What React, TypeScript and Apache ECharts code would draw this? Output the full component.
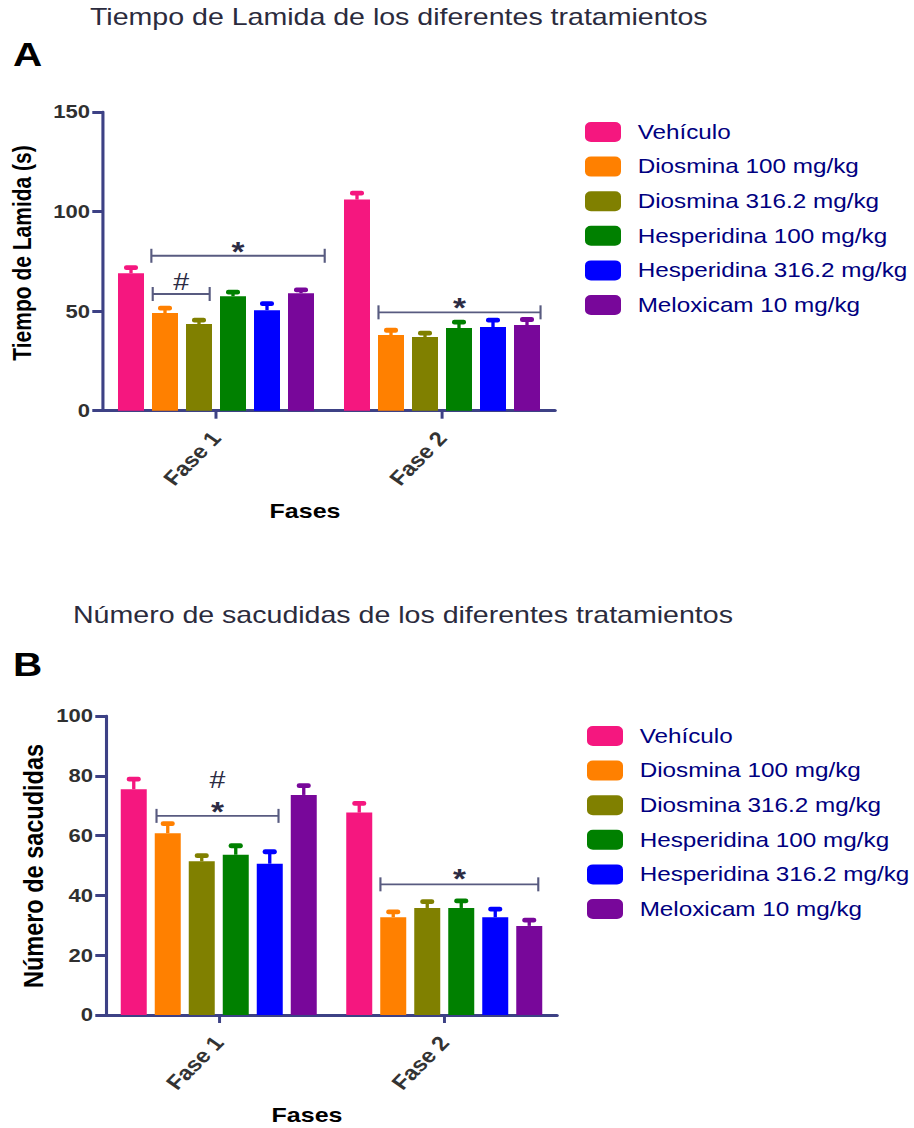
import React, { useEffect, useRef } from "react";
import * as echarts from "echarts";

// ---------------- data ----------------
const PHASES = ["Fase 1", "Fase 2"];
const TREATMENTS = [
  "Vehículo",
  "Diosmina 100 mg/kg",
  "Diosmina 316.2 mg/kg",
  "Hesperidina 100 mg/kg",
  "Hesperidina 316.2 mg/kg",
  "Meloxicam 10 mg/kg",
];

// Panel A: Tiempo de Lamida (s) — [Fase 1, Fase 2] per treatment
const LICK_MEAN = [
  [69, 106],
  [49, 38],
  [43.5, 37],
  [57.5, 41.5],
  [50.5, 42],
  [59, 43],
];
const LICK_SEM = [
  [2.8, 3.3],
  [2.5, 2.4],
  [2, 2],
  [2, 3],
  [3.3, 3.5],
  [1.7, 2.8],
];
const LICK_TICKS = [0, 50, 100, 150];
// brackets: [phase, from (band fraction), to (band fraction), y]
const LICK_BRACKETS = [
  [0, -0.286, 0.481, 77.8],
  [0, -0.28, -0.028, 58.6],
  [1, -0.281, 0.436, 49.4],
];
// marks: [phase, x (band fraction), y]
const LICK_MARKS = [
  [0, 0.0975, 80.1],
  [0, -0.154, 64.6],
  [1, 0.0775, 52.0],
];
const LICK_MARK_LABELS = ["*", "#", "*"];

// Panel B: Número de sacudidas — [Fase 1, Fase 2] per treatment
const SHAKE_MEAN = [
  [75.5, 67.7],
  [60.8, 32.7],
  [51.4, 35.8],
  [53.6, 35.8],
  [50.6, 32.7],
  [73.6, 29.8],
];
const SHAKE_SEM = [
  [3.4, 3.1],
  [3.2, 1.8],
  [1.9, 2.1],
  [3, 2.4],
  [4, 2.7],
  [3.1, 1.9],
];
const SHAKE_TICKS = [0, 20, 40, 60, 80, 100];
const SHAKE_BRACKETS = [
  [0, -0.276, 0.265, 66.6],
  [1, -0.283, 0.417, 43.7],
];
const SHAKE_MARKS = [
  [0, -0.0055, 68.2],
  [0, -0.0055, 78.6],
  [1, 0.067, 45.6],
];
const SHAKE_MARK_LABELS = ["*", "#", "*"];

const TITLE_A = "Tiempo de Lamida de los diferentes tratamientos";
const TITLE_B = "Número de sacudidas de los diferentes tratamientos";
const YNAME_A = "Tiempo de Lamida (s)";
const YNAME_B = "Número de sacudidas";
const XNAME = "Fases";

// ---------------- styles ----------------
const COLORS = ["#F5177F", "#FF8000", "#808000", "#008000", "#0000FF", "#78079A"];
const S = 1.19; // horizontal stretch of the picture
const BASE_W = 914 / S;
const FONT = "'Liberation Sans', Arial, Helvetica, sans-serif";
const AXIS_COLOR = "#3d4185";
const BRACKET_COLOR = "#585b80";
const MARK_COLOR = "#2c2c44";
const BAR_W = 26 / S;
const BAR_STEP = 34 / S;
const BAR_GAP_PCT = (((BAR_STEP - BAR_W) / BAR_W) * 100).toFixed(2) + "%";
const CAP_W = 14 / S;
const CAP_H = 4.8;
const STEM_W = 2.8;

function axisPair(idx: number, ticks: number[]) {
  const interval = ticks[1] - ticks[0];
  const x = {
    type: "category",
    gridIndex: idx,
    data: PHASES,
    axisLine: { show: true, lineStyle: { color: AXIS_COLOR, width: 3 } },
    axisTick: { show: true, alignWithLabel: true, length: 8, lineStyle: { color: AXIS_COLOR, width: 2.5 } },
    axisLabel: {
      rotate: 50,
      interval: 0,
      margin: 24,
      fontSize: 20,
      fontWeight: "bold",
      color: "#333333",
      fontFamily: FONT,
    },
    splitLine: { show: false },
  };
  const y = {
    type: "value",
    gridIndex: idx,
    min: ticks[0],
    max: ticks[ticks.length - 1],
    interval,
    axisLine: { show: true, lineStyle: { color: AXIS_COLOR, width: 2.6 } },
    axisTick: { show: true, length: 9, lineStyle: { color: AXIS_COLOR, width: 3 } },
    axisLabel: { margin: 11, fontSize: 18.5, fontWeight: "bold", color: "#303030", fontFamily: FONT },
    splitLine: { show: false },
  };
  return { x, y };
}

function barSeries(idx: number, means: number[][]) {
  return TREATMENTS.map((name, t) => ({
    type: "bar",
    name,
    xAxisIndex: idx,
    yAxisIndex: idx,
    data: means[t],
    barWidth: BAR_W,
    barGap: BAR_GAP_PCT,
    itemStyle: { color: COLORS[t] },
    z: 2,
  }));
}

function errorSeries(idx: number, means: number[][], sems: number[][]) {
  const data: number[][] = [];
  means.forEach((row, t) => row.forEach((m, p) => data.push([p, t, m, sems[t][p]])));
  return {
    type: "custom",
    xAxisIndex: idx,
    yAxisIndex: idx,
    silent: true,
    z: 3,
    encode: { x: 0, y: 2 },
    data,
    renderItem: (params: any, api: any) => {
      const p = api.value(0);
      const t = api.value(1);
      const m = api.value(2);
      const e = api.value(3);
      const base = api.coord([p, m]);
      const top = api.coord([p, m + e]);
      const x = base[0] + (t - (TREATMENTS.length - 1) / 2) * BAR_STEP;
      const color = COLORS[t];
      return {
        type: "group",
        children: [
          { type: "line", shape: { x1: x, y1: base[1], x2: x, y2: top[1] }, style: { stroke: color, lineWidth: STEM_W } },
          {
            type: "rect",
            shape: { x: x - CAP_W / 2, y: top[1] - CAP_H / 2, width: CAP_W, height: CAP_H, r: 2 },
            style: { fill: color },
          },
        ],
      };
    },
  };
}

function bracketSeries(idx: number, brackets: number[][]) {
  return {
    type: "custom",
    xAxisIndex: idx,
    yAxisIndex: idx,
    silent: true,
    z: 4,
    encode: { x: 0, y: 3 },
    data: brackets,
    renderItem: (params: any, api: any) => {
      const c = api.coord([api.value(0), api.value(3)]);
      const band = api.size([1, 0])[0];
      const x1 = c[0] + api.value(1) * band;
      const x2 = c[0] + api.value(2) * band;
      const y = c[1];
      const st = { stroke: BRACKET_COLOR, lineWidth: 1.8 };
      return {
        type: "group",
        children: [
          { type: "line", shape: { x1, y1: y, x2, y2: y }, style: st },
          { type: "line", shape: { x1, y1: y - 7, x2: x1, y2: y + 7 }, style: st },
          { type: "line", shape: { x1: x2, y1: y - 7, x2, y2: y + 7 }, style: st },
        ],
      };
    },
  };
}

function markSeries(idx: number, marks: number[][], labels: string[]) {
  return {
    type: "custom",
    xAxisIndex: idx,
    yAxisIndex: idx,
    silent: true,
    z: 5,
    encode: { x: 0, y: 2 },
    data: marks,
    renderItem: (params: any, api: any) => {
      const c = api.coord([api.value(0), api.value(2)]);
      const band = api.size([1, 0])[0];
      const label = labels[params.dataIndex];
      const isStar = label === "*";
      return {
        type: "text",
        x: c[0] + api.value(1) * band,
        y: c[1],
        style: {
          text: label,
          fontSize: isStar ? 28 : 24,
          fontWeight: isStar ? "bold" : "normal",
          fontFamily: FONT,
          fill: MARK_COLOR,
          align: "center",
          verticalAlign: "middle",
        },
      };
    },
  };
}

function legend(left: number, top: number) {
  return {
    orient: "vertical",
    left,
    top,
    padding: 0,
    itemWidth: 36 / S,
    itemHeight: 20,
    itemGap: 14.6,
    icon: "roundRect",
    selectedMode: false,
    data: TREATMENTS,
    textStyle: { fontSize: 20.4, color: "#000080", fontFamily: FONT, padding: [0, 0, 0, 9] },
  };
}

export default function App() {
  const ref = useRef<HTMLDivElement>(null);

  useEffect(() => {
    document.body.style.margin = "0";
    document.body.style.overflow = "hidden";
    if (!ref.current) return;
    const chart = echarts.init(ref.current, undefined, { renderer: "svg" });
    const a = axisPair(0, LICK_TICKS);
    const b = axisPair(1, SHAKE_TICKS);
    const textBase = { fontFamily: FONT };
    chart.setOption({
      animation: false,
      backgroundColor: "#ffffff",
      textStyle: { fontFamily: FONT },
      title: [
        {
          text: TITLE_A,
          left: 90 / S,
          top: 5,
          padding: 0,
          textStyle: { fontSize: 24, fontWeight: "normal", color: "#2b2b3d", fontFamily: FONT },
        },
        {
          text: TITLE_B,
          left: 73 / S,
          top: 603,
          padding: 0,
          textStyle: { fontSize: 24, fontWeight: "normal", color: "#2b2b3d", fontFamily: FONT },
        },
      ],
      legend: [legend(585 / S, 122), legend(587 / S, 726)],
      grid: [
        { left: 103 / S, top: 112, width: (555 - 103) / S, height: 298.7, containLabel: false },
        { left: 106 / S, top: 716, width: (557 - 106) / S, height: 299, containLabel: false },
      ],
      xAxis: [a.x, b.x],
      yAxis: [a.y, b.y],
      series: [
        ...barSeries(0, LICK_MEAN),
        errorSeries(0, LICK_MEAN, LICK_SEM),
        bracketSeries(0, LICK_BRACKETS),
        markSeries(0, LICK_MARKS, LICK_MARK_LABELS),
        ...barSeries(1, SHAKE_MEAN),
        errorSeries(1, SHAKE_MEAN, SHAKE_SEM),
        bracketSeries(1, SHAKE_BRACKETS),
        markSeries(1, SHAKE_MARKS, SHAKE_MARK_LABELS),
      ],
      graphic: [
        {
          type: "text",
          x: 13 / S,
          y: 54,
          style: { ...textBase, text: "A", fontSize: 34, fontWeight: "bold", fill: "#000", verticalAlign: "middle", align: "left" },
        },
        {
          type: "text",
          x: 13 / S,
          y: 664,
          style: { ...textBase, text: "B", fontSize: 34, fontWeight: "bold", fill: "#000", verticalAlign: "middle", align: "left" },
        },
        {
          type: "text",
          x: 22 / S,
          y: 253,
          rotation: Math.PI / 2,
          style: { ...textBase, text: YNAME_A, fontSize: 21, fontWeight: "bold", fill: "#000", verticalAlign: "middle", align: "center" },
        },
        {
          type: "text",
          x: 33 / S,
          y: 866,
          rotation: Math.PI / 2,
          style: { ...textBase, text: YNAME_B, fontSize: 23.5, fontWeight: "bold", fill: "#000", verticalAlign: "middle", align: "center" },
        },
        {
          type: "text",
          x: 305 / S,
          y: 511,
          style: { ...textBase, text: XNAME, fontSize: 21, fontWeight: "bold", fill: "#000", verticalAlign: "middle", align: "center" },
        },
        {
          type: "text",
          x: 307 / S,
          y: 1115,
          style: { ...textBase, text: XNAME, fontSize: 21, fontWeight: "bold", fill: "#000", verticalAlign: "middle", align: "center" },
        },
      ],
    });
    return () => chart.dispose();
  }, []);

  return (
    <div
      ref={ref}
      style={{
        width: BASE_W + "px",
        height: "1128px",
        transform: `scaleX(${S})`,
        transformOrigin: "0 0",
      }}
    />
  );
}
